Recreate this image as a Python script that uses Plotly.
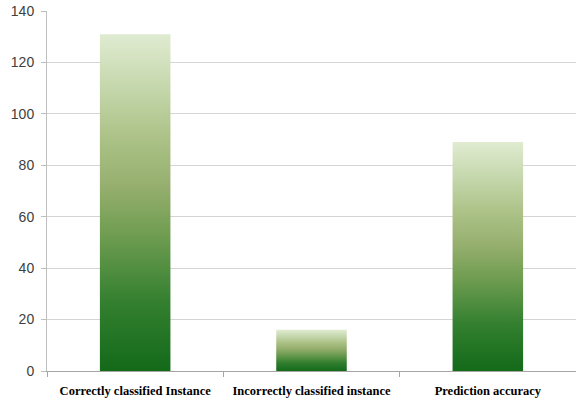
import plotly.graph_objects as go

# Classification results
categories = ["Correctly classified Instance", "Incorrectly classified instance", "Prediction accuracy"]
values = [131, 16, 89.1]
y_ticks = [0, 20, 40, 60, 80, 100, 120, 140]

# Dark green at the base fading to pale green at the top of each bar
green_scale = [
    [0.0, "#136a19"],
    [0.2, "#327f2f"],
    [0.4, "#6e9c50"],
    [0.55, "#96af6e"],
    [0.7, "#adc389"],
    [0.85, "#c6d8ae"],
    [1.0, "#e0ebd1"],
]

half_width = 0.2

fig = go.Figure()
for i, v in enumerate(values):
    fig.add_trace(go.Scatter(
        x=[i - half_width, i - half_width, i + half_width, i + half_width, i - half_width],
        y=[0, v, v, 0, 0],
        mode="lines",
        line=dict(width=0),
        fill="toself",
        fillgradient=dict(type="vertical", colorscale=green_scale, start=0, stop=v),
        hoverinfo="skip",
        showlegend=False,
    ))

fig.update_layout(
    width=576,
    height=401,
    margin=dict(l=47, r=0, t=11, b=30),
    paper_bgcolor="white",
    plot_bgcolor="white",
    xaxis=dict(
        range=[-0.5, 2.5],
        tickmode="array",
        tickvals=list(range(len(categories))),
        ticktext=categories,
        ticks="",
        showgrid=False,
        zeroline=False,
        showline=True,
        linecolor="#a6a6a6",
        linewidth=1,
        ticklabelstandoff=8,
        tickfont=dict(family="Liberation Serif", size=12.5, color="#000000", weight="bold"),
        minor=dict(tickmode="linear", tick0=-0.5, dtick=1, ticks="outside",
                   ticklen=5, tickcolor="#a6a6a6", showgrid=False),
    ),
    yaxis=dict(
        range=[0, 140],
        tickmode="array",
        tickvals=y_ticks,
        ticks="outside",
        ticklen=5,
        tickcolor="#bfbfbf",
        showgrid=True,
        gridcolor="#d4d4d4",
        gridwidth=1,
        zeroline=False,
        showline=True,
        linecolor="#bfbfbf",
        linewidth=1,
        ticklabelstandoff=4,
        tickfont=dict(family="Liberation Sans", size=14, color="#404040"),
    ),
)

fig.write_html("out.html")
